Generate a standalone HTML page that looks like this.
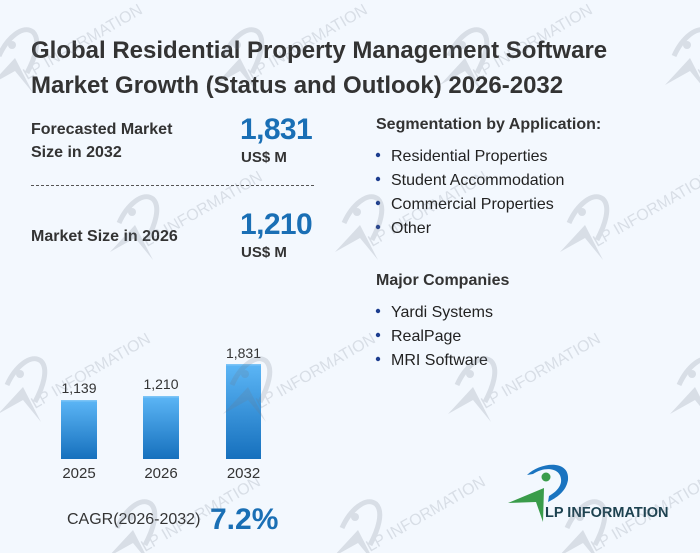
<!DOCTYPE html>
<html><head><meta charset="utf-8"><style>
html,body{margin:0;padding:0;background:#f3f8fe;}
svg{display:block;font-family:"Liberation Sans",Arial,sans-serif;}
</style></head><body>
<svg width="700" height="553" viewBox="0 0 700 553" xmlns="http://www.w3.org/2000/svg">
<defs>
<linearGradient id="bar" x1="0" y1="0" x2="0" y2="1">
<stop offset="0" stop-color="#5cb6f6"/><stop offset="1" stop-color="#1670bd"/>
</linearGradient>
</defs>
<rect width="700" height="553" fill="#f3f8fe"/>

<!-- Title -->
<g fill="#333" font-weight="bold" font-size="24">
<text x="31" y="58">Global Residential Property Management Software</text>
<text x="31" y="93">Market Growth (Status and Outlook) 2026-2032</text>
</g>

<!-- Left KPIs -->
<g fill="#333" font-weight="bold" font-size="16">
<text x="31" y="134">Forecasted Market</text>
<text x="31" y="157">Size in 2032</text>
<text x="31" y="241">Market Size in 2026</text>
</g>
<g fill="#1a6fb5" font-weight="bold" font-size="30" letter-spacing="-0.6">
<text x="240" y="139">1,831</text>
<text x="240" y="234">1,210</text>
</g>
<g fill="#333" font-weight="bold" font-size="15">
<text x="241" y="162">US$ M</text>
<text x="241" y="257">US$ M</text>
</g>
<line x1="31" y1="185.5" x2="315" y2="185.5" stroke="#555" stroke-width="1" stroke-dasharray="3,2"/>

<!-- Right lists -->
<g fill="#333" font-weight="bold" font-size="16">
<text x="376" y="129">Segmentation by Application:</text>
<text x="376" y="285">Major Companies</text>
</g>
<g fill="#222" font-size="16">
<text x="391" y="161">Residential Properties</text>
<text x="391" y="185">Student Accommodation</text>
<text x="391" y="209">Commercial Properties</text>
<text x="391" y="233">Other</text>
<text x="391" y="317">Yardi Systems</text>
<text x="391" y="341">RealPage</text>
<text x="391" y="365">MRI Software</text>
</g>
<g fill="#1c3d8f">
<circle cx="378" cy="155" r="2.2"/>
<circle cx="378" cy="179" r="2.2"/>
<circle cx="378" cy="203" r="2.2"/>
<circle cx="378" cy="227" r="2.2"/>
<circle cx="378" cy="311" r="2.2"/>
<circle cx="378" cy="335" r="2.2"/>
<circle cx="378" cy="359" r="2.2"/>
</g>

<!-- Bars -->
<rect x="61" y="400" width="36" height="59" fill="url(#bar)"/>
<rect x="143" y="396" width="36" height="63" fill="url(#bar)"/>
<rect x="226" y="364" width="35" height="95" fill="url(#bar)"/>
<g fill="#7cc4f6">
<rect x="61" y="400" width="36" height="1.5"/>
<rect x="143" y="396" width="36" height="1.5"/>
<rect x="226" y="364" width="35" height="1.5"/>
</g>
<g fill="#333" font-size="14" text-anchor="middle">
<text x="79" y="393">1,139</text>
<text x="161" y="389">1,210</text>
<text x="243.5" y="358">1,831</text>
</g>
<g fill="#333" font-size="15" text-anchor="middle">
<text x="79" y="478">2025</text>
<text x="161" y="478">2026</text>
<text x="243.5" y="478">2032</text>
</g>

<!-- CAGR -->
<text x="67" y="524" fill="#333" font-size="16">CAGR(2026-2032)</text>
<text x="210" y="529" fill="#1a6fb5" font-size="30" font-weight="bold">7.2%</text>

<!-- Logo -->
<path d="M527,475 C540,462 570,459 568,480 C566,492 556,498 548,502 L549,496 C556,492 562,486 561,479 C560,468 545,466 533,474 Z" fill="#1a74c0"/>
<circle cx="546" cy="477" r="4.5" fill="#3a9c4a"/>
<path d="M508,503 L544,488 L543,522 L536,502 Z" fill="#3a9c4a"/>
<text x="545" y="517" fill="#1d4250" font-size="14.5" font-weight="bold">LP INFORMATION</text>

<!-- Watermarks -->
<g fill="rgb(110,120,135)" stroke="none" opacity="0.2">
<g transform="translate(15,58)"><path d="M-16,-2 C-8,-20 8,-34 18,-26 C26,-18 20,0 12,15" fill="none" stroke="rgb(110,120,135)" stroke-width="5"/><circle cx="-3" cy="-13" r="4"/><path d="M-25,27 L0,0 L18,35 L0,13 Z"/><text x="12" y="22" font-size="16" transform="rotate(-30 12 22)">LP INFORMATION</text></g>
<g transform="translate(240,58)"><path d="M-16,-2 C-8,-20 8,-34 18,-26 C26,-18 20,0 12,15" fill="none" stroke="rgb(110,120,135)" stroke-width="5"/><circle cx="-3" cy="-13" r="4"/><path d="M-25,27 L0,0 L18,35 L0,13 Z"/><text x="12" y="22" font-size="16" transform="rotate(-30 12 22)">LP INFORMATION</text></g>
<g transform="translate(465,58)"><path d="M-16,-2 C-8,-20 8,-34 18,-26 C26,-18 20,0 12,15" fill="none" stroke="rgb(110,120,135)" stroke-width="5"/><circle cx="-3" cy="-13" r="4"/><path d="M-25,27 L0,0 L18,35 L0,13 Z"/><text x="12" y="22" font-size="16" transform="rotate(-30 12 22)">LP INFORMATION</text></g>
<g transform="translate(690,58)"><path d="M-16,-2 C-8,-20 8,-34 18,-26 C26,-18 20,0 12,15" fill="none" stroke="rgb(110,120,135)" stroke-width="5"/><circle cx="-3" cy="-13" r="4"/><path d="M-25,27 L0,0 L18,35 L0,13 Z"/><text x="12" y="22" font-size="16" transform="rotate(-30 12 22)">LP INFORMATION</text></g>

<g transform="translate(135,225)"><path d="M-16,-2 C-8,-20 8,-34 18,-26 C26,-18 20,0 12,15" fill="none" stroke="rgb(110,120,135)" stroke-width="5"/><circle cx="-3" cy="-13" r="4"/><path d="M-25,27 L0,0 L18,35 L0,13 Z"/><text x="12" y="22" font-size="16" transform="rotate(-30 12 22)">LP INFORMATION</text></g>
<g transform="translate(360,225)"><path d="M-16,-2 C-8,-20 8,-34 18,-26 C26,-18 20,0 12,15" fill="none" stroke="rgb(110,120,135)" stroke-width="5"/><circle cx="-3" cy="-13" r="4"/><path d="M-25,27 L0,0 L18,35 L0,13 Z"/><text x="12" y="22" font-size="16" transform="rotate(-30 12 22)">LP INFORMATION</text></g>
<g transform="translate(585,225)"><path d="M-16,-2 C-8,-20 8,-34 18,-26 C26,-18 20,0 12,15" fill="none" stroke="rgb(110,120,135)" stroke-width="5"/><circle cx="-3" cy="-13" r="4"/><path d="M-25,27 L0,0 L18,35 L0,13 Z"/><text x="12" y="22" font-size="16" transform="rotate(-30 12 22)">LP INFORMATION</text></g>

<g transform="translate(23,387)"><path d="M-16,-2 C-8,-20 8,-34 18,-26 C26,-18 20,0 12,15" fill="none" stroke="rgb(110,120,135)" stroke-width="5"/><circle cx="-3" cy="-13" r="4"/><path d="M-25,27 L0,0 L18,35 L0,13 Z"/><text x="12" y="22" font-size="16" transform="rotate(-30 12 22)">LP INFORMATION</text></g>
<g transform="translate(248,387)"><path d="M-16,-2 C-8,-20 8,-34 18,-26 C26,-18 20,0 12,15" fill="none" stroke="rgb(110,120,135)" stroke-width="5"/><circle cx="-3" cy="-13" r="4"/><path d="M-25,27 L0,0 L18,35 L0,13 Z"/><text x="12" y="22" font-size="16" transform="rotate(-30 12 22)">LP INFORMATION</text></g>
<g transform="translate(473,387)"><path d="M-16,-2 C-8,-20 8,-34 18,-26 C26,-18 20,0 12,15" fill="none" stroke="rgb(110,120,135)" stroke-width="5"/><circle cx="-3" cy="-13" r="4"/><path d="M-25,27 L0,0 L18,35 L0,13 Z"/><text x="12" y="22" font-size="16" transform="rotate(-30 12 22)">LP INFORMATION</text></g>
<g transform="translate(695,387)"><path d="M-16,-2 C-8,-20 8,-34 18,-26 C26,-18 20,0 12,15" fill="none" stroke="rgb(110,120,135)" stroke-width="5"/><circle cx="-3" cy="-13" r="4"/><path d="M-25,27 L0,0 L18,35 L0,13 Z"/><text x="12" y="22" font-size="16" transform="rotate(-30 12 22)">LP INFORMATION</text></g>

<g transform="translate(133,530)"><path d="M-16,-2 C-8,-20 8,-34 18,-26 C26,-18 20,0 12,15" fill="none" stroke="rgb(110,120,135)" stroke-width="5"/><circle cx="-3" cy="-13" r="4"/><path d="M-25,27 L0,0 L18,35 L0,13 Z"/><text x="12" y="22" font-size="16" transform="rotate(-30 12 22)">LP INFORMATION</text></g>
<g transform="translate(358,530)"><path d="M-16,-2 C-8,-20 8,-34 18,-26 C26,-18 20,0 12,15" fill="none" stroke="rgb(110,120,135)" stroke-width="5"/><circle cx="-3" cy="-13" r="4"/><path d="M-25,27 L0,0 L18,35 L0,13 Z"/><text x="12" y="22" font-size="16" transform="rotate(-30 12 22)">LP INFORMATION</text></g>
<g transform="translate(583,530)"><path d="M-16,-2 C-8,-20 8,-34 18,-26 C26,-18 20,0 12,15" fill="none" stroke="rgb(110,120,135)" stroke-width="5"/><circle cx="-3" cy="-13" r="4"/><path d="M-25,27 L0,0 L18,35 L0,13 Z"/><text x="12" y="22" font-size="16" transform="rotate(-30 12 22)">LP INFORMATION</text></g>
</g>
</svg>
</body></html>
